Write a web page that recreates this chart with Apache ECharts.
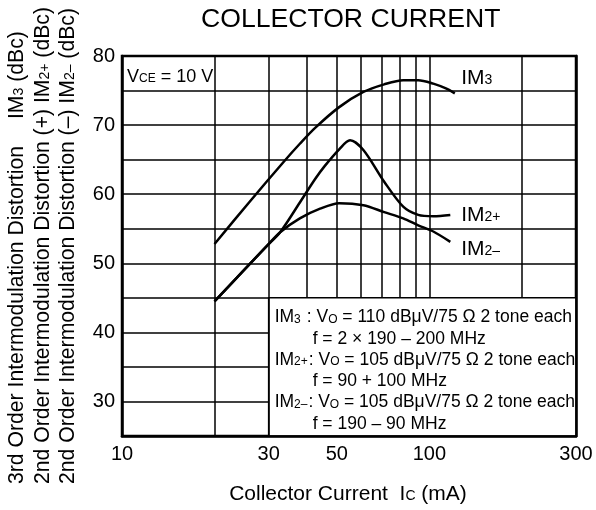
<!DOCTYPE html>
<html><head><meta charset="utf-8">
<script src="https://cdn.jsdelivr.net/npm/echarts@6/dist/echarts.min.js"></script>
<style>html,body{margin:0;padding:0;background:#fff}#c{width:596px;height:510px}</style>
</head><body><div id="c"></div>
<script>
// ---- data ----
const xTickLabels = [10, 30, 50, 100, 300];
const gridFullX = [20, 30];
const gridUpperX = [40, 50, 60, 70, 80, 90, 100, 200];
const im3Current = [20, 25.9, 33.6, 37.9, 42.5, 50.9, 61.0, 71.3, 82.2, 92.0, 103.0, 113.2, 121];
const im3Dist    = [52.8, 58.8, 64.7, 67.3, 69.6, 72.6, 74.8, 75.9, 76.5, 76.5, 76.0, 75.3, 74.6];
const im2pCurrent = [20, 24.8, 29.3, 32.7, 37.9, 42.5, 45.7, 50.9, 55.2, 61.0, 71.3, 82.2, 92.0, 103.0, 117];
const im2pDist    = [44.5, 48.9, 52.3, 54.5, 58.8, 62.2, 64.1, 66.5, 67.8, 66.4, 61.8, 58.2, 57.0, 56.8, 57.0];
const im2mCurrent = [20, 24.8, 29.3, 32.7, 37.9, 44.1, 50.9, 61.0, 71.3, 82.2, 92.0, 103.0, 117];
const im2mDist    = [44.5, 48.9, 52.3, 54.5, 56.5, 57.9, 58.7, 58.4, 57.4, 56.5, 55.5, 54.6, 53.1];

const FONT = '"Liberation Sans", Arial, sans-serif';
const pair = (xs, ys) => xs.map((x, i) => [x, ys[i]]);
const vLines = [];
gridFullX.forEach(v => vLines.push([{coord: [v, 25]}, {coord: [v, 80]}]));
gridUpperX.forEach(v => vLines.push([{coord: [v, 45]}, {coord: [v, 80]}]));

const richBase = (m, s, L) => ({
  b: {fontSize: m, fontFamily: FONT, color: '#000', lineHeight: L},
  s: {fontSize: s, fontFamily: FONT, color: '#000', height: L - 0.7 * (m - s), verticalAlign: 'bottom'}
});

const lineStyleCurve = {color: '#000', width: 2.5};
function curve(name, xs, ys, labelText, labelCoord) {
  return {
    type: 'line', name, data: pair(xs, ys), smooth: 0.3, symbol: 'none',
    lineStyle: lineStyleCurve, z: 3, silent: true, animation: false,
    markPoint: {
      symbol: 'circle', symbolSize: 0, silent: true, animation: false,
      data: [{coord: labelCoord, label: {show: true, position: 'right', distance: 0,
        formatter: labelText, rich: richBase(21, 14, 24)}}]
    }
  };
}

const legendLines = [
  '{b|IM}{s|3}{g1| }{b|: V}{s|O}{b| = 110 dBμV/75 Ω 2 tone each}',
  '{i| }{b|f = 2 × 190 – 200 MHz}',
  '{b|IM}{s|2+}{g2| }{b|: V}{s|O}{b| = 105 dBμV/75 Ω 2 tone each}',
  '{i| }{b|f = 90 + 100 MHz}',
  '{b|IM}{s|2–}{g2| }{b|: V}{s|O}{b| = 105 dBμV/75 Ω 2 tone each}',
  '{i| }{b|f = 190 – 90 MHz}'
];
const legendRich = Object.assign(richBase(17.5, 12, 21.3), {
  g1: {width: 6, lineHeight: 21.3}, g2: {width: 1, lineHeight: 21.3}, i: {width: 38, lineHeight: 21.3}
});

const yTitleRich = Object.assign(richBase(21.2, 14, 24), {gap: {width: 27, lineHeight: 24}});

const chart = echarts.init(document.getElementById('c'), null, {renderer: 'canvas'});
chart.setOption({
  animation: false,
  backgroundColor: '#fff',
  title: {text: 'COLLECTOR CURRENT', left: 196, top: 1,
    textStyle: {fontFamily: FONT, fontSize: 26.6, fontWeight: 'normal', color: '#000'}},
  grid: {left: 122, right: 20, top: 56, bottom: 74, show: true, borderColor: '#000', borderWidth: 2.5, backgroundColor: 'transparent'},
  xAxis: [{
    type: 'log', logBase: 10, min: 10, max: 300, z: 6,
    axisLine: {show: true, lineStyle: {color: '#000', width: 2.5}},
    axisTick: {show: false},
    splitLine: {show: false}, minorSplitLine: {show: false},
    axisLabel: {customValues: xTickLabels, fontFamily: FONT, fontSize: 20, color: '#000', margin: 8}
  }],
  yAxis: [{
    type: 'value', min: 25, max: 80, interval: 5,
    axisLine: {show: true, lineStyle: {color: '#000', width: 2.5}},
    axisTick: {show: false},
    splitLine: {show: true, lineStyle: {color: '#000', width: 1.5}},
    axisLabel: {fontFamily: FONT, fontSize: 20, color: '#000', margin: 7,
      formatter: v => (v % 10 === 0 ? String(v) : '')}
  }, {
    type: 'value', min: 25, max: 80, interval: 5, position: 'right', z: 6,
    axisLine: {show: true, lineStyle: {color: '#000', width: 2.5}},
    axisTick: {show: false}, axisLabel: {show: false}, splitLine: {show: false}
  }],
  graphic: [
    {type: 'text', x: 17, y: 484, rotation: Math.PI / 2, silent: true,
      style: {text: '{b|3rd Order Intermodulation Distortion}{gap| }{b|IM}{s|3}{b| (dBc)}', rich: yTitleRich, align: 'left', verticalAlign: 'middle'}},
    {type: 'text', x: 43, y: 484, rotation: Math.PI / 2, silent: true,
      style: {text: '{b|2nd Order Intermodulation Distortion (+) IM}{s|2+}{b| (dBc)}', rich: yTitleRich, align: 'left', verticalAlign: 'middle'}},
    {type: 'text', x: 68, y: 484, rotation: Math.PI / 2, silent: true,
      style: {text: '{b|2nd Order Intermodulation Distortion (–) IM}{s|2–}{b| (dBc)}', rich: yTitleRich, align: 'left', verticalAlign: 'middle'}},
    {type: 'text', x: 348, y: 494, silent: true,
      style: {text: '{b|Collector Current  I}{s|C}{b| (mA)}', rich: richBase(21, 14, 24), align: 'center', verticalAlign: 'middle'}}
  ],
  series: [
    Object.assign(curve('IM3', im3Current, im3Dist, '{b|IM}{s|3}', [127, 76.8]), {
      markLine: {symbol: 'none', silent: true, animation: false, label: {show: false},
        lineStyle: {color: '#000', width: 1.5, type: 'solid'}, data: vLines},
      markArea: {silent: true, animation: false,
        itemStyle: {color: '#fff', borderColor: '#000', borderWidth: 1.5},
        data: [[{coord: [30, 25]}, {coord: [300, 45]}]]}
    }),
    curve('IM2+', im2pCurrent, im2pDist, '{b|IM}{s|2+}', [127, 57]),
    curve('IM2-', im2mCurrent, im2mDist, '{b|IM}{s|2–}', [127, 52.1]),
    {
      type: 'scatter', data: [], silent: true,
      markPoint: {symbol: 'circle', symbolSize: 0, silent: true, animation: false,
        data: [
          {coord: [10, 77], label: {show: true, position: 'right', distance: 5,
            formatter: '{b|V}{s|CE}{b| = 10 V}', rich: richBase(18, 12, 21)}},
          {coord: [30, 45], label: {show: true, position: [6, 9], align: 'left', verticalAlign: 'top',
            formatter: legendLines.join('\n'), rich: legendRich}}
        ]}
    }
  ]
});
</script></body></html>
